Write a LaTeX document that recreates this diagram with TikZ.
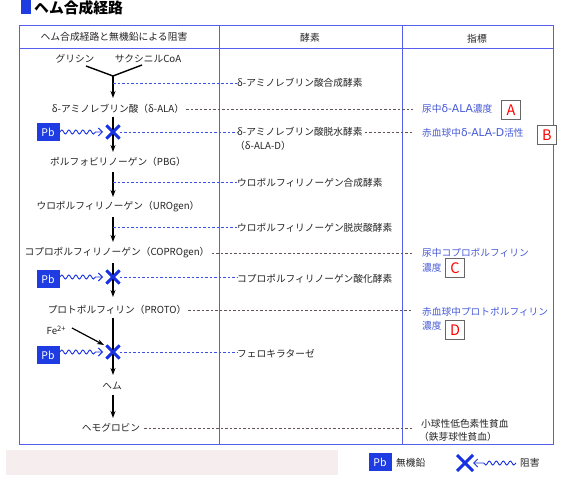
\documentclass[tikz,border=0pt]{standalone}
\usepackage{fontspec}
\setmainfont{Noto Sans CJK JP}
\newfontfamily\lat{DejaVu Sans}
\usetikzlibrary{arrows.meta,decorations.pathmorphing,shapes.misc}
\definecolor{tblue}{RGB}{85,95,235}
\definecolor{pbblue}{RGB}{30,60,225}
\definecolor{xblue}{RGB}{25,50,225}
\definecolor{iblue}{RGB}{70,90,215}
\definecolor{kgray}{RGB}{95,85,85}
\definecolor{dblue}{RGB}{60,80,230}
\definecolor{txt}{RGB}{35,35,35}
\definecolor{band}{RGB}{246,238,238}
\tikzset{
  tbl/.style={draw=tblue, line width=0.9pt},
  flow/.style={-{Stealth[length=7pt,width=5pt]}, line width=1.4pt, black},
  bd/.style={draw=dblue, dash pattern=on 2.5pt off 2pt, line width=0.8pt},
  kd/.style={draw=kgray, dash pattern=on 2.5pt off 2pt, line width=0.8pt},
  pb/.style={fill=pbblue, text=white, minimum width=23pt, minimum height=18pt, inner sep=0, font=\fontsize{10.5}{10.5}\selectfont},
  xm/.style={cross out, draw=xblue, line width=2.6pt, minimum size=10.5pt, inner sep=0},
  wav/.style={draw=xblue, line width=0.9pt, decorate, decoration={snake, amplitude=2pt, segment length=7pt, post length=6pt}, -{Straight Barb[length=4pt,width=8pt]}},
  lbox/.style={draw=gray!80!black, fill=white, text=red, minimum width=19pt, minimum height=19pt, inner sep=0, font=\fontsize{14.5}{14.5}\selectfont},
  idx/.style={text=iblue, anchor=west, inner sep=0},
  enz/.style={text=txt, anchor=west, inner sep=0},
  lbl/.style={text=txt, inner sep=0},
}
\newcommand{\latw}[1]{{\lat\fontsize{10.8}{11}\selectfont #1}}
\begin{document}
\begin{tikzpicture}[x=1pt,y=-1pt, font=\fontsize{9.7}{11}\selectfont]
\useasboundingbox (0,0) rectangle (567,486);
% title
\fill[pbblue] (21,0) rectangle (31,14);
\node[anchor=west, inner sep=0, font=\fontsize{14.8}{14.8}\selectfont\bfseries] (title) at (34,8) {ヘム合成経路};
% table
\draw[tbl] (19,25) rectangle (553,444);
\draw[tbl] (19,48) -- (553,48);
\draw[tbl] (219,25) -- (219,444);
\draw[tbl] (402,25) -- (402,444);
\node[lbl, font=\fontsize{9.8}{10}\selectfont] (h1) at (114,37) {ヘム合成経路と無機鉛による阻害};
\node[lbl, font=\fontsize{9.8}{10}\selectfont] (h2) at (310,38) {酵素};
\node[lbl, font=\fontsize{9.8}{10}\selectfont] (h3) at (477,39) {指標};
% column 1 nodes
\node[lbl] (gly) at (75,59) {グリシン};
\node[lbl] (suc) at (148,59) {サクシニルCoA};
\node[lbl] (ala) at (118,109) {δ-アミノレブリン酸（δ-ALA）};
\node[lbl] (pbg) at (118,162) {ポルフォビリノーゲン（PBG）};
\node[lbl] (uro) at (118,207) {ウロポルフィリノーゲン（UROgen）};
\node[lbl] (copro) at (117,253) {コプロポルフィリノーゲン（COPROgen）};
\node[lbl] (proto) at (117,310) {プロトポルフィリン（PROTO）};
\node[lbl] (heme) at (112,386) {ヘム};
\node[lbl] (hb) at (111,428) {ヘモグロビン};
\node[lbl] (fe) at (56,330) {Fe\raisebox{3pt}{\fontsize{7.5}{8}\selectfont 2+}};
% spine coordinates
\coordinate (gl) at (86,66);
\coordinate (sc) at (142,65);
\coordinate (join) at (113,76);
\coordinate (a1) at (113,98);
\coordinate (b0) at (113,117); \coordinate (b1) at (113,152);
\coordinate (c0) at (113,172); \coordinate (c1) at (113,197);
\coordinate (d0) at (113,217); \coordinate (d1) at (113,242);
\coordinate (e0) at (113,263); \coordinate (e1) at (113,297);
\coordinate (f0) at (113,318); \coordinate (f1) at (113,375);
\coordinate (g0) at (113,395); \coordinate (g1) at (113,418);
\coordinate (fe0) at (72,328); \coordinate (fe1) at (104,345);
% X marks and Pb boxes
\node[xm] (x1) at (113,132) {};
\node[xm] (x2) at (113,277) {};
\node[xm] (x3) at (113,352) {};
\node[pb] (pb1) at (48,132) {Pb};
\node[pb] (pb2) at (48,279) {Pb};
\node[pb] (pb3) at (48,355) {Pb};
% arrows
\draw[line width=1.4pt] (gl) -- (join) -- (sc);
\draw[flow] (join) -- (a1);
\draw[flow] (b0) -- (b1);
\draw[flow] (c0) -- (c1);
\draw[flow] (d0) -- (d1);
\draw[flow] (e0) -- (e1);
\draw[flow] (f0) -- (f1);
\draw[flow] (g0) -- (g1);
\draw[flow, line width=1.2pt] (fe0) -- (fe1);
\node[xm] at (x1) {};
\node[xm] at (x2) {};
\node[xm] at (x3) {};
\draw[wav] (pb1.east) -- (103,132);
\draw[wav] (pb2.east |- x2) -- (103,277);
\draw[wav] (pb3.east |- x3) -- (103,352);
% enzymes
\node[enz] (en1) at (237,83) {δ-アミノレブリン酸合成酵素};
\node[enz] (en2) at (237,132) {δ-アミノレブリン酸脱水酵素};
\node[enz] (en2b) at (235,146) {（δ-ALA-D）};
\node[enz] (en3) at (237,183) {ウロポルフィリノーゲン合成酵素};
\node[enz] (en4) at (237,228) {ウロポルフィリノーゲン脱炭酸酵素};
\node[enz] (en5) at (237,279) {コプロポルフィリノーゲン酸化酵素};
\node[enz] (en6) at (237,354) {フェロキラターゼ};
\draw[bd] (113,83) -- (en1.west |- 0,83);
\draw[bd] (x1.east) -- (en2.west |- x1);
\draw[bd] (113,182) -- (en3.west |- 0,182);
\draw[bd] (113,227) -- (en4.west |- 0,227);
\draw[bd] (x2.east) -- (en5.west |- x2);
\draw[bd] (x3.east) -- (en6.west |- x3);
% indices
\node[idx] (i1) at (422,109) {尿中\latw{δ-ALA}濃度};
\node[lbox] (bA) at (511,110) {A};
\node[idx] (i2) at (422,133) {赤血球中\latw{δ-ALA-D}活性};
\node[lbox] (bB) at (547,135) {B};
\node[idx] (i3) at (422,253) {尿中コプロポルフィリン};
\node[idx] (i3b) at (422,268) {濃度};
\node[lbox] (bC) at (455,268) {C};
\node[idx] (i4) at (422,312) {赤血球中プロトポルフィリン};
\node[idx] (i4b) at (422,326) {濃度};
\node[lbox] (bD) at (455,330) {D};
\node[enz] (i5) at (421,424) {小球性低色素性貧血};
\node[enz] (i5b) at (419,437) {（鉄芽球性貧血）};
\draw[kd] ([xshift=2pt]ala.east) -- (413,109);
\draw[kd] ([xshift=2pt]en2.east) -- (413,132);
\draw[kd] ([xshift=2pt]copro.east) -- (413,253);
\draw[kd] ([xshift=2pt]proto.east) -- (413,310);
\draw[kd] ([xshift=4pt]hb.east) -- (413,428);
% legend
\fill[band] (6,450) rectangle (338,475);
\node[pb] (pbL) at (380,462) {Pb};
\node[enz] (lg1) at (396,463) {無機鉛};
\node[xm, minimum size=13pt, line width=3pt] (xL) at (465,463) {};
\draw[wav, decoration={post length=8pt}] (516,463) -- (xL.east);
\node[enz] (lg2) at (520,463) {阻害};
\end{tikzpicture}
\end{document}
